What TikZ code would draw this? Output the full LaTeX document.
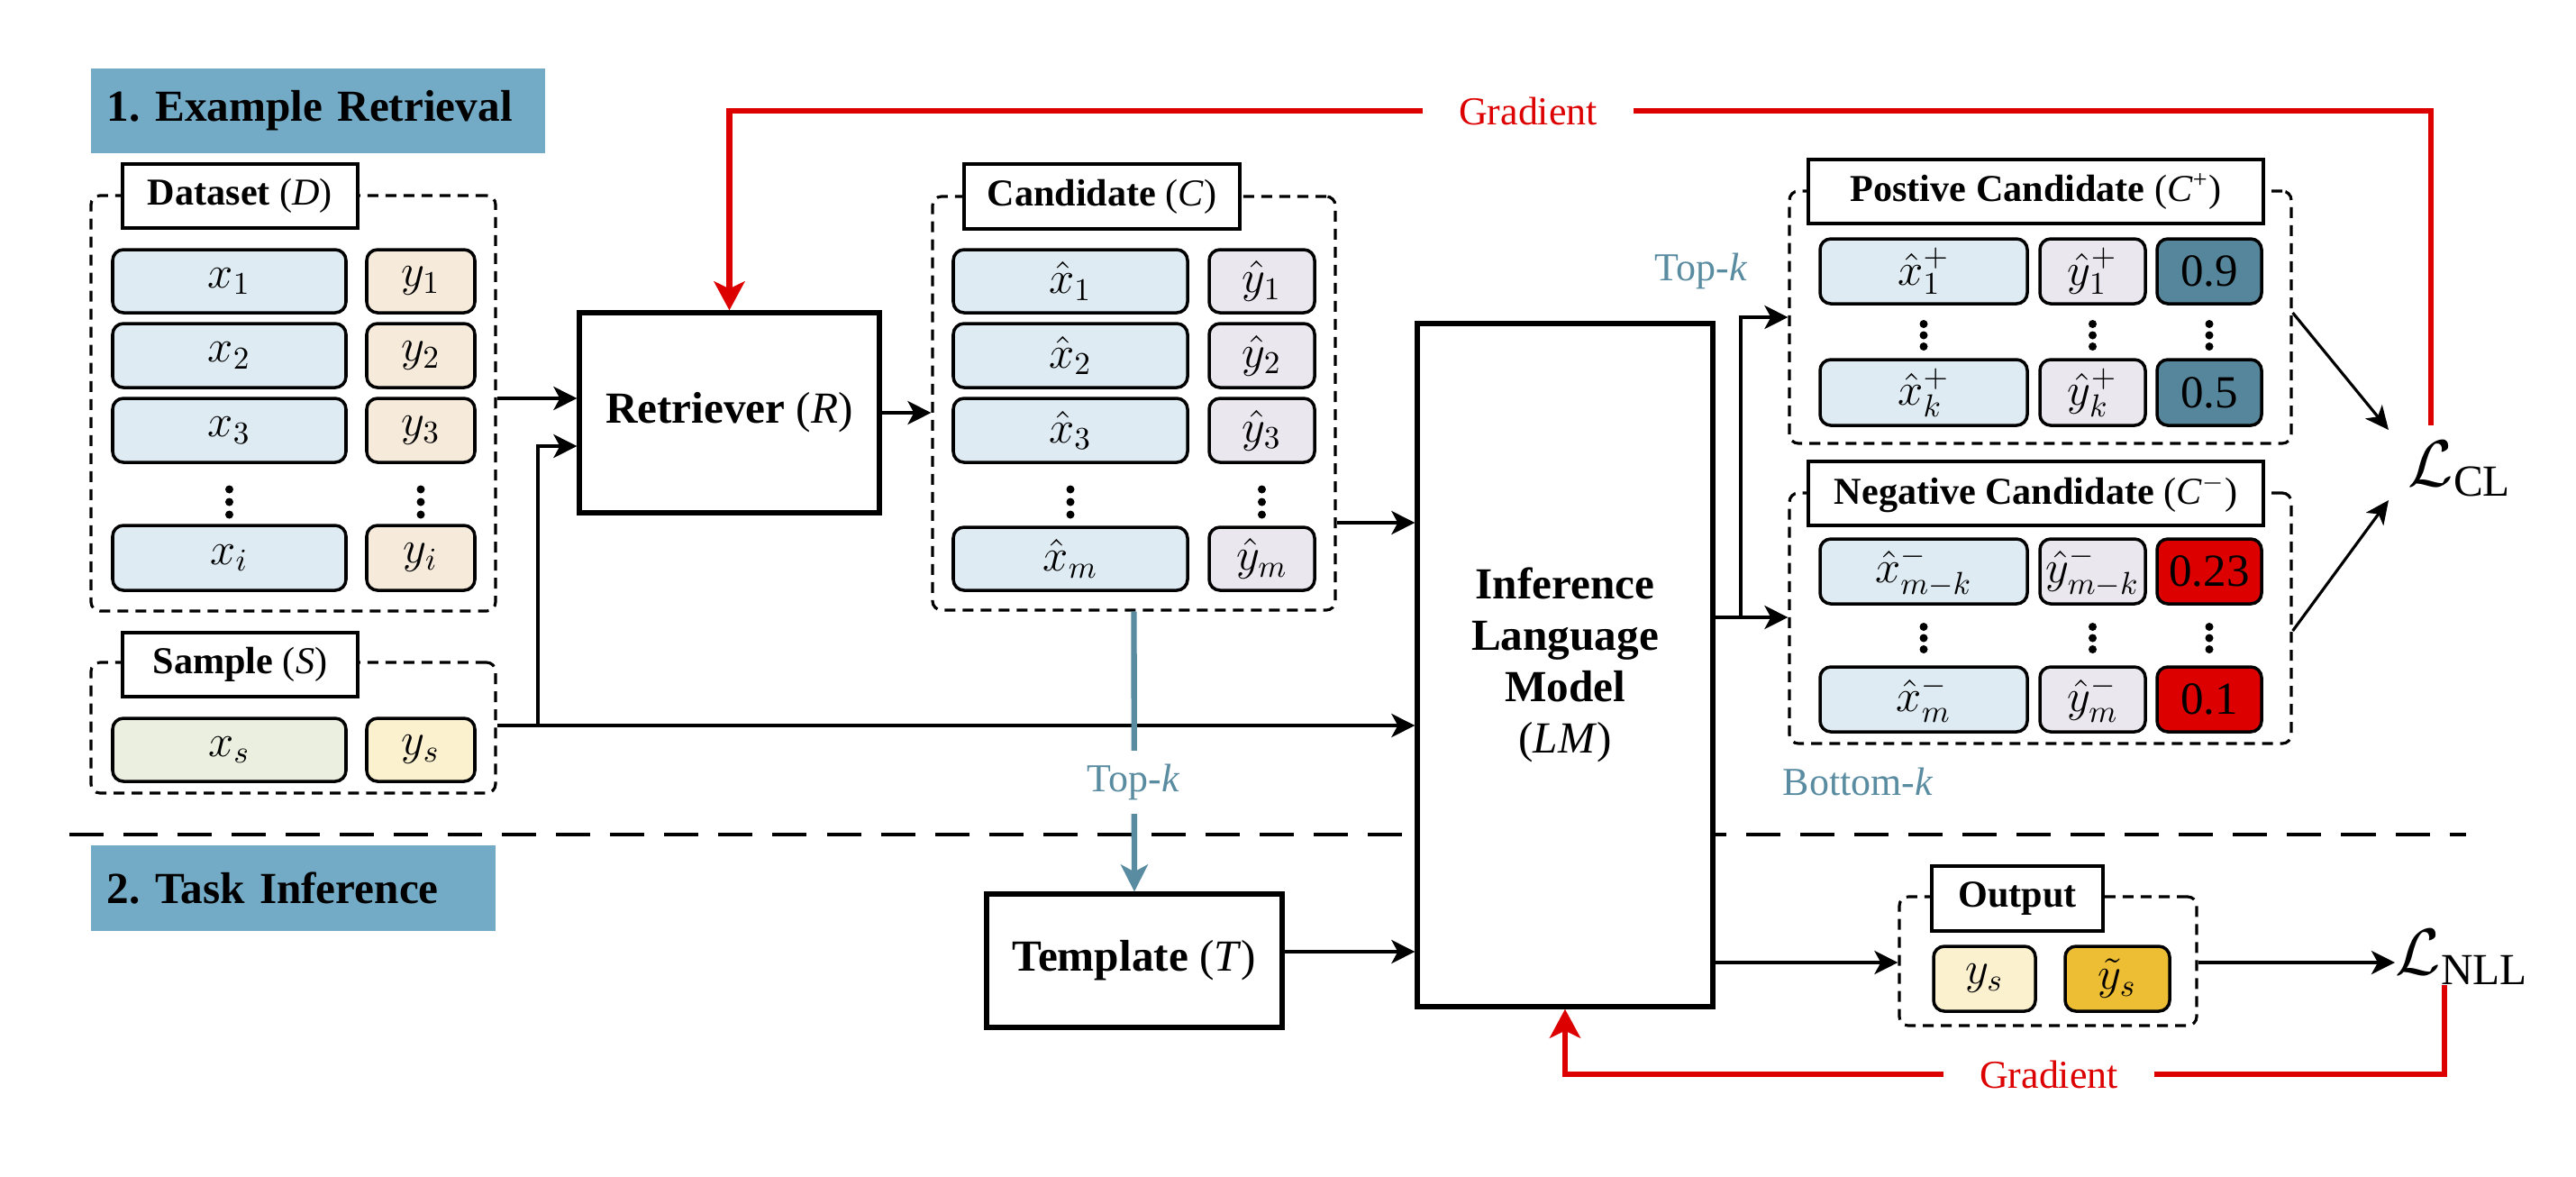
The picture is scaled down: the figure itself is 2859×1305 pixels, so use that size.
\documentclass[tikz,border=0pt]{standalone}
\usepackage{fontspec}
\setmainfont{Liberation Serif}
\usetikzlibrary{arrows.meta}
\definecolor{bannerc}{HTML}{73ABC6}
\definecolor{xblue}{HTML}{DEEBF2}
\definecolor{ypeach}{HTML}{F6EADB}
\definecolor{xgreen}{HTML}{EAEFDF}
\definecolor{yyellow}{HTML}{FBF1CF}
\definecolor{ylav}{HTML}{EBE7EE}
\definecolor{posc}{HTML}{55869C}
\definecolor{negc}{HTML}{DC0000}
\definecolor{goldc}{HTML}{EDBE33}
\definecolor{gred}{HTML}{DC0000}
\definecolor{tealc}{HTML}{5A8CA1}
\newcommand\bx[7]{%
 \pgfmathsetmacro\bxw{(#4-#2)*0.01}%
 \pgfmathsetmacro\bxh{(#5-#3)*0.01}%
 \node[#6, minimum width=\bxw cm, minimum height=\bxh cm, inner sep=0pt] (#1) at ({(#2+#4)/2},{(#3+#5)/2}) {#7};}
\newcommand\vd[3]{%
 \fill (#1,#2-#3) circle[radius=0.045cm];
 \fill (#1,#2) circle[radius=0.045cm];
 \fill (#1,#2+#3) circle[radius=0.045cm];}
\tikzset{
 rowbox/.style={draw=black, line width=1pt, rounded corners=0.12cm, font=\fontsize{14.5}{16}\selectfont},
 titlebox/.style={draw=black, fill=white, line width=0.9pt, font=\fontsize{12}{14}\selectfont\bfseries},
 groupbox/.style={draw=black, line width=0.9pt, dash pattern=on 0.12cm off 0.08cm, rounded corners=0.1cm},
 bigbox/.style={draw=black, fill=white, line width=1.5pt, align=center, font=\fontsize{14}{16.2}\selectfont\bfseries},
 bannerbox/.style={fill=bannerc, align=left, inner xsep=0.18cm, inner ysep=0pt, font=\fontsize{14}{16}\selectfont\bfseries},
 arr/.style={-{Stealth[length=0.26cm,width=0.26cm,inset=0.07cm]}, line width=1.1pt},
 thinarr/.style={-{Stealth[length=0.26cm,width=0.24cm,inset=0.07cm]}, line width=0.9pt},
 garr/.style={gred, line width=1.8pt, -{Stealth[length=0.32cm,width=0.34cm,inset=0.08cm]}},
 tarr/.style={tealc, line width=1.8pt, -{Stealth[length=0.3cm,width=0.3cm,inset=0.08cm]}},
 glabel/.style={fill=white, text=gred, inner xsep=0.4cm, inner ysep=0.05cm, font=\fontsize{12.5}{14}\selectfont},
 tlabel/.style={text=tealc, font=\fontsize{12.5}{14}\selectfont},
}
\begin{document}
\begin{tikzpicture}[x=0.01cm,y=-0.01cm]
\useasboundingbox (0,0) rectangle (2859,1305);

% banners
\node[bannerbox, minimum height=0.94cm, text width=4.68cm] (b1) at (353,123) {1.\ Example Retrieval};
\node[bannerbox, minimum height=0.95cm, text width=4.13cm] (b2) at (325.5,985.5) {2.\ Task Inference};

% divider
\draw[line width=1.3pt, dash pattern=on 0.38cm off 0.22cm] (77,926) -- (2737,926);

% Dataset
\bx{dset}{101}{217}{550}{678}{groupbox}{}
\bx{dsetT}{136}{182}{397}{253}{titlebox}{Dataset {\mdseries(\textit{D})}}
\bx{x1}{125}{277}{384}{347}{rowbox,fill=xblue}{$x_1$}
\bx{y1}{407}{277}{527}{347}{rowbox,fill=ypeach}{$y_1$}
\bx{x2}{125}{359}{384}{430}{rowbox,fill=xblue}{$x_2$}
\bx{y2}{407}{359}{527}{430}{rowbox,fill=ypeach}{$y_2$}
\bx{x3}{125}{442}{384}{513}{rowbox,fill=xblue}{$x_3$}
\bx{y3}{407}{442}{527}{513}{rowbox,fill=ypeach}{$y_3$}
\vd{254.5}{557}{14}
\vd{467}{557}{14}
\bx{xi}{125}{583}{384}{655}{rowbox,fill=xblue}{$x_i$}
\bx{yi}{407}{583}{527}{655}{rowbox,fill=ypeach}{$y_i$}

% Sample
\bx{samp}{101}{735}{550}{880}{groupbox}{}
\bx{sampT}{136}{702}{397}{773}{titlebox}{Sample {\mdseries(\textit{S})}}
\bx{xs}{125}{797}{384}{867}{rowbox,fill=xgreen}{$x_s$}
\bx{ys}{407}{797}{527}{867}{rowbox,fill=yyellow}{$y_s$}

% Retriever
\bx{retr}{643}{347}{976}{569}{bigbox}{Retriever {\mdseries(\textit{R})}}

% Candidate
\bx{cand}{1035}{218}{1482}{677}{groupbox}{}
\bx{candT}{1070}{182}{1376}{254}{titlebox}{Candidate {\mdseries(\textit{C})}}
\bx{cx1}{1058}{277}{1318}{347}{rowbox,fill=xblue}{$\hat{x}_1$}
\bx{cy1}{1342}{277}{1459}{347}{rowbox,fill=ylav}{$\hat{y}_1$}
\bx{cx2}{1058}{359}{1318}{430}{rowbox,fill=xblue}{$\hat{x}_2$}
\bx{cy2}{1342}{359}{1459}{430}{rowbox,fill=ylav}{$\hat{y}_2$}
\bx{cx3}{1058}{442}{1318}{513}{rowbox,fill=xblue}{$\hat{x}_3$}
\bx{cy3}{1342}{442}{1459}{513}{rowbox,fill=ylav}{$\hat{y}_3$}
\vd{1188}{557}{14}
\vd{1400.5}{557}{14}
\bx{cxm}{1058}{585}{1318}{655}{rowbox,fill=xblue}{$\hat{x}_m$}
\bx{cym}{1342}{585}{1459}{655}{rowbox,fill=ylav}{$\hat{y}_m$}

% Template and LM
\bx{tmpl}{1095}{992}{1423}{1140}{bigbox}{Template {\mdseries(\textit{T})}}
\bx{lm}{1573}{359}{1901}{1117}{bigbox}{Inference\\Language\\Model\\{\mdseries(\textit{LM})}}

% Positive
\bx{pos}{1986}{212}{2543}{492}{groupbox}{}
\bx{posT}{2007}{177}{2512}{248}{titlebox}{Postive Candidate {\mdseries(\textit{C}\textsuperscript{+})}}
\bx{px1}{2020}{265}{2250}{337}{rowbox,fill=xblue}{$\hat{x}_1^{+}$}
\bx{py1}{2264}{265}{2381}{337}{rowbox,fill=ylav}{$\hat{y}_1^{+}$}
\bx{ps1}{2394}{265}{2510}{337}{rowbox,fill=posc}{0.9}
\vd{2135}{372}{12.5}
\vd{2322.5}{372}{12.5}
\vd{2452}{372}{12.5}
\bx{pxk}{2020}{399}{2250}{472}{rowbox,fill=xblue}{$\hat{x}_k^{+}$}
\bx{pyk}{2264}{399}{2381}{472}{rowbox,fill=ylav}{$\hat{y}_k^{+}$}
\bx{psk}{2394}{399}{2510}{472}{rowbox,fill=posc}{0.5}

% Negative
\bx{neg}{1986}{547}{2543}{825}{groupbox}{}
\bx{negT}{2007}{512}{2512}{583}{titlebox}{Negative Candidate {\mdseries(\textit{C}\textsuperscript{$-$})}}
\bx{nx1}{2020}{598}{2250}{670}{rowbox,fill=xblue}{$\hat{x}_{m-k}^{-}$}
\bx{ny1}{2264}{598}{2381}{670}{rowbox,fill=ylav}{$\hat{y}_{m-k}^{-}$}
\bx{ns1}{2394}{598}{2510}{670}{rowbox,fill=negc}{0.23}
\vd{2135}{708}{12.5}
\vd{2322.5}{708}{12.5}
\vd{2452}{708}{12.5}
\bx{nxm}{2020}{740}{2250}{812}{rowbox,fill=xblue}{$\hat{x}_m^{-}$}
\bx{nym}{2264}{740}{2381}{812}{rowbox,fill=ylav}{$\hat{y}_m^{-}$}
\bx{nsm}{2394}{740}{2510}{812}{rowbox,fill=negc}{0.1}

% Output
\bx{outg}{2108}{995}{2438}{1138}{groupbox}{}
\bx{outT}{2144}{961}{2334}{1033}{titlebox}{Output}
\bx{oys}{2146}{1050}{2259}{1122}{rowbox,fill=yyellow}{$y_s$}
\bx{oyt}{2292}{1050}{2408}{1122}{rowbox,fill=goldc}{$\tilde{y}_s$}

% losses
\node[anchor=west, inner sep=0pt, font=\fontsize{20}{22}\selectfont] (lcl) at (2672,520) {$\mathcal{L}_{\mathrm{CL}}$};
\node[anchor=west, inner sep=0pt, font=\fontsize{20}{22}\selectfont] (lnll) at (2658,1062) {$\mathcal{L}_{\mathrm{NLL}}$};

% labels
\node[tlabel, anchor=east, inner sep=0pt] (topk1) at (1940,301) {Top-\textit{k}};
\node[tlabel, anchor=west, inner sep=0pt] (botk) at (1978,867) {Bottom-\textit{k}};

% connectors
\draw[arr] (dset.east |- 0,442) -- (retr.west |- 0,442);
\coordinate (sj) at (597,805);
\draw[arr] (samp.east |- sj) -- (lm.west |- sj);
\draw[arr] (sj) -- (sj |- 0,495) -- (retr.west |- 0,495);
\draw[arr] (retr.east) -- (cand.west |- retr.east);
\draw[arr] (cand.east |- 0,580) -- (lm.west |- 0,580);
\draw[arr] (tmpl.east |- 0,1056) -- (lm.west |- 0,1056);
\draw[arr] (lm.east |- 0,1068) -- (outg.west |- 0,1068);
\draw[arr] (outg.east |- 0,1068) -- (lnll.west |- 0,1068);
\coordinate (bj) at (1932,685);
\draw[arr] (lm.east |- bj) -- (neg.west |- bj);
\draw[arr] (bj) -- (bj |- 0,352) -- (pos.west |- 0,352);
\coordinate (lclA) at (2651,477);
\coordinate (lclB) at (2651,555);
\draw[thinarr] (pos.east |- 0,347) -- (lclA);
\draw[thinarr] (neg.east |- 0,700) -- (lclB);

% teal top-k arrow
\draw[tarr] (cand.south) -- (tmpl.north);
\node[tlabel, fill=white, inner xsep=0.05cm, inner ysep=0.15cm] (topk2) at (1258,868) {Top-\textit{k}};

% gradients
\coordinate (g1) at (2698,472);
\draw[garr] (g1) -- (2698,123) -- (retr.north |- 0,123) -- (retr.north);
\node[glabel] (grad1) at (1696,123) {Gradient};
\coordinate (g2) at (2713,1093);
\draw[garr] (g2) -- (2713,1192) -- (lm.south |- 0,1192) -- (lm.south);
\node[glabel] (grad2) at (2274,1192) {Gradient};
\end{tikzpicture}
\end{document}
